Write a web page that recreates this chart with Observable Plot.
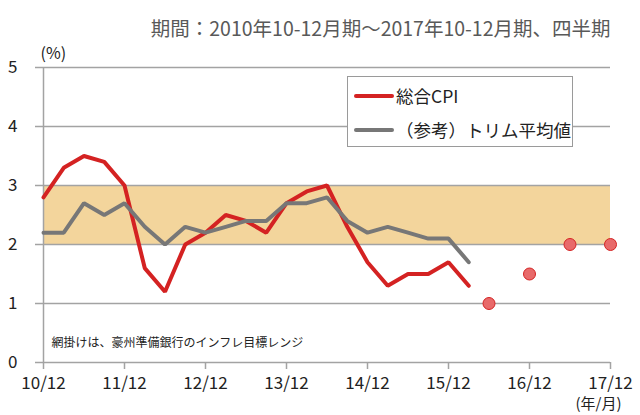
<!DOCTYPE html>
<html><head><meta charset="utf-8">
<script src="https://cdn.jsdelivr.net/npm/d3@7"></script>
<script src="https://cdn.jsdelivr.net/npm/@observablehq/plot@0.6"></script>
<style>
body{margin:0;background:#fff;font-family:"Noto Sans CJK JP","Noto Sans",sans-serif;}
#wrap{position:relative;width:640px;height:415px;}
#legend{position:absolute;left:347px;top:76px;width:224px;height:69px;border:1.5px solid #9a9a9a;background:#fff;box-sizing:content-box;}
.lg{position:absolute;left:6px;display:flex;align-items:center;font-size:17.5px;color:#222;white-space:nowrap;}
.sw{width:40px;height:4px;border-radius:2px;margin-right:2px;}
</style></head>
<body><div id="wrap"></div>
<script>
const quarterLabels = ["10/12","11/3","11/6","11/9","11/12","12/3","12/6","12/9","12/12","13/3","13/6","13/9","13/12","14/3","14/6","14/9","14/12","15/3","15/6","15/9","15/12","16/3"];
const cpi     = [2.8,3.3,3.5,3.4,3.0,1.6,1.2,2.0,2.2,2.5,2.4,2.2,2.7,2.9,3.0,2.3,1.7,1.3,1.5,1.5,1.7,1.3];
const trimmed = [2.2,2.2,2.7,2.5,2.7,2.3,2.0,2.3,2.2,2.3,2.4,2.4,2.7,2.7,2.8,2.4,2.2,2.3,2.2,2.1,2.1,1.7];
const forecastQuarters = [22,24,26,28]; // 16/6, 16/12, 17/6, 17/12
const forecastValues = [1.0,1.5,2.0,2.0];
const xTickPos = [0,4,8,12,16,20,24,28];
const xTickLabels = ["10/12","11/12","12/12","13/12","14/12","15/12","16/12","17/12"];
const yTicks = [0,1,2,3,4,5];
const bandLow = 2, bandHigh = 3;
const seriesNames = ["総合CPI","（参考）トリム平均値"];
const titleText = "期間：2010年10-12月期～2017年10-12月期、四半期";
const noteText = "網掛けは、豪州準備銀行のインフレ目標レンジ";

const rows = [];
cpi.forEach((v,i)=>rows.push({t:i,v,s:seriesNames[0]}));
trimmed.forEach((v,i)=>rows.push({t:i,v,s:seriesNames[1]}));
const fc = forecastQuarters.map((t,i)=>({t,v:forecastValues[i]}));
const RED="#d42222", GRAY="#777777", GRID="#a3a3a3";
const FONT='"Noto Sans CJK JP","Noto Sans",sans-serif';

const chart = Plot.plot({
  width:640, height:415,
  marginTop:67, marginBottom:53, marginLeft:43, marginRight:30,
  style:{fontFamily:FONT, background:"#fff", color:"#222"},
  x:{type:"linear", domain:[0,28], axis:null},
  y:{domain:[0,5], axis:null},
  marks:[
    Plot.rect([{x1:0,x2:28,y1:bandLow,y2:bandHigh}],{x1:"x1",x2:"x2",y1:"y1",y2:"y2",fill:"#f3d59c"}),
    Plot.gridY(yTicks,{stroke:GRID,strokeOpacity:1,strokeWidth:1.5}),
    Plot.axisY(yTicks,{tickSize:8,tickPadding:18,stroke:GRID,strokeWidth:1.5,fontSize:17,anchor:"left",label:null,tickFormat:d=>String(d)}),
    Plot.ruleX([0],{stroke:GRID,strokeWidth:1.5}),
    Plot.axisX(xTickPos,{anchor:"bottom",tickSize:7,tickPadding:7,stroke:GRID,strokeWidth:1.5,fontSize:17,label:null,tickFormat:d=>xTickLabels[xTickPos.indexOf(d)]}),
    Plot.line(rows,{x:"t",y:"v",z:"s",stroke:"s",strokeWidth:4,strokeLinejoin:"miter",strokeLinecap:"round"}),
    Plot.dot(fc,{x:"t",y:"v",r:6,fill:"#e86a6a",stroke:"#d42222",strokeWidth:1}),
    Plot.text([titleText],{frameAnchor:"top-right",dy:-45,dx:0,textAnchor:"end",fontSize:19.5,fill:"#595959"}),
    Plot.text(["(%)"],{frameAnchor:"top-left",dx:-3,dy:-20,textAnchor:"start",fontSize:16,fill:"#222"}),
    Plot.text([noteText],{frameAnchor:"bottom-left",dx:8,dy:-16,textAnchor:"start",fontSize:12,fill:"#222"}),
    Plot.text(["(年/月)"],{frameAnchor:"bottom-right",dx:-12,dy:46,textAnchor:"middle",fontSize:15,fill:"#222"})
  ],
  color:{domain:seriesNames, range:[RED,GRAY]}
});
const wrap=document.getElementById("wrap");
wrap.appendChild(chart);
const lg=document.createElement("div");lg.id="legend";
lg.innerHTML=`<div class="lg" style="top:6px"><div class="sw" style="background:${RED}"></div>${seriesNames[0]}</div>
<div class="lg" style="top:40px"><div class="sw" style="background:${GRAY}"></div>${seriesNames[1]}</div>`;
wrap.appendChild(lg);
</script></body></html>
